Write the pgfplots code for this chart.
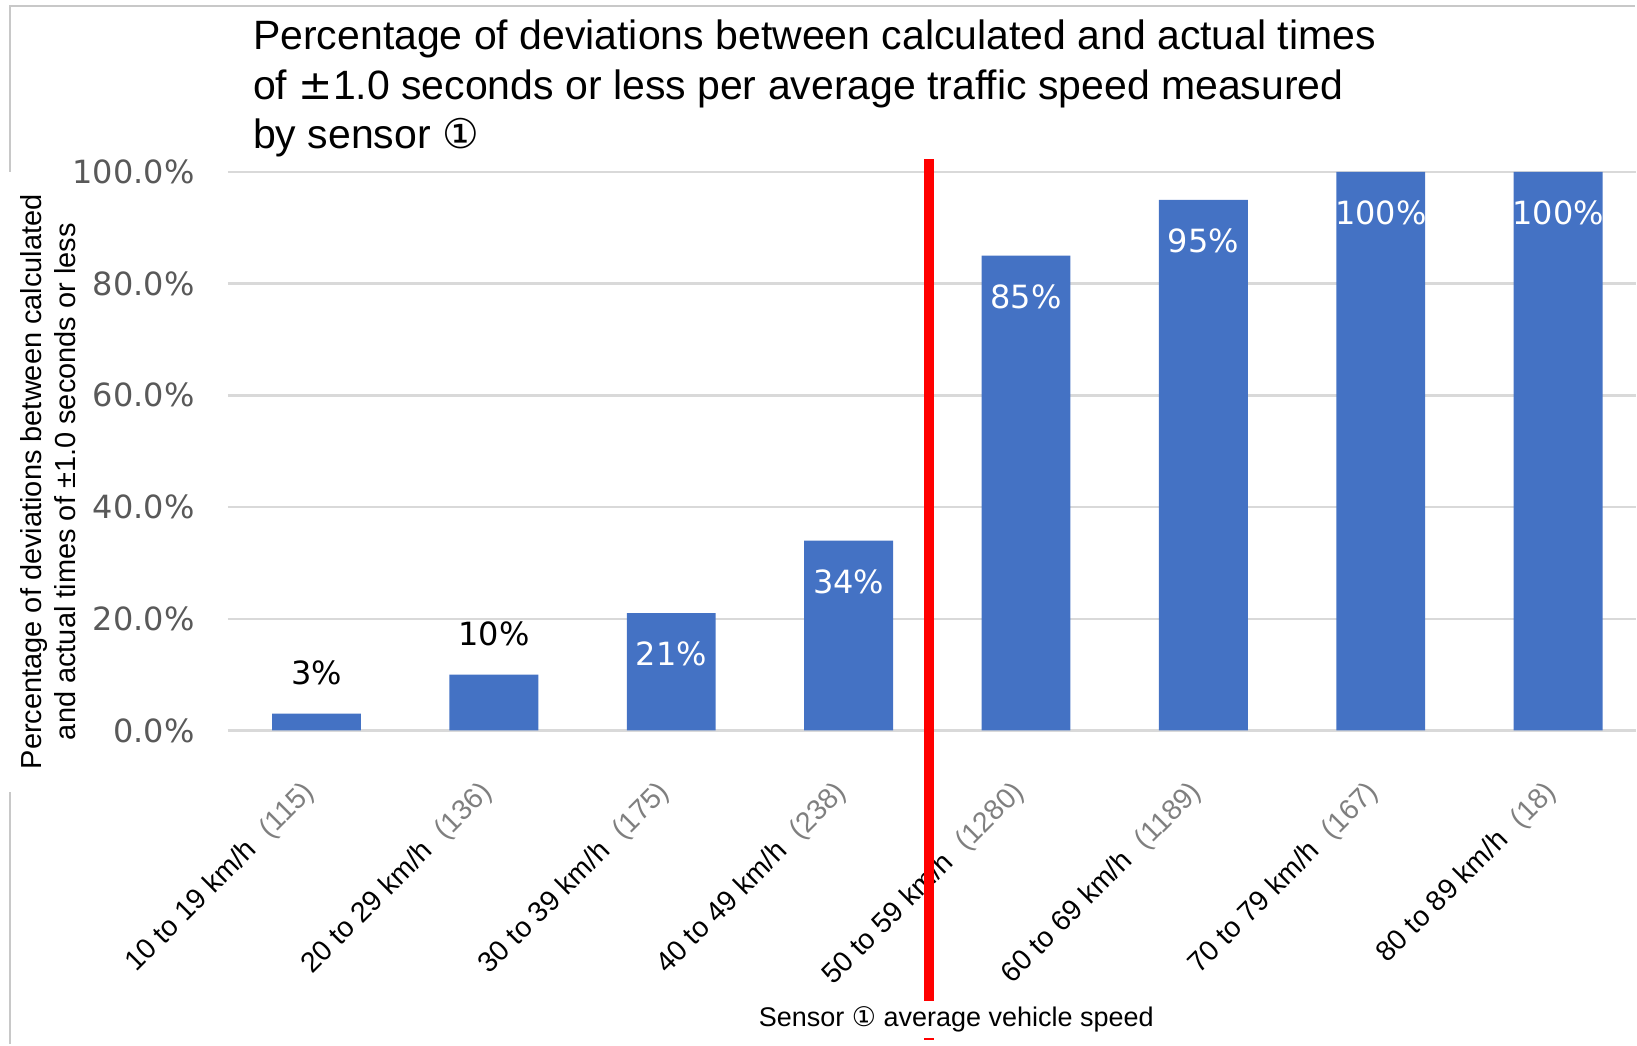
\documentclass[border=0pt]{standalone}
\usepackage{fontspec}
\setmainfont{Liberation Sans}
\newfontfamily\dejavu{DejaVu Sans}
\usepackage{pgfplots}
\pgfplotsset{compat=1.18}
\definecolor{barblue}{HTML}{4472C4}
\definecolor{gridgray}{HTML}{D9D9D9}
\definecolor{tickgray}{HTML}{595959}
\definecolor{paren}{HTML}{7F7F7F}
\definecolor{framegray}{HTML}{C8C8C8}
\newcommand{\cnt}[1]{\hspace{0.6em}{\color{paren}(#1)}}
\begin{document}
\begin{tikzpicture}
\path (0pt,0pt) rectangle (818.5pt,523pt);
\draw[framegray, line width=1pt] (5.2pt,437pt) -- (5.2pt,520pt) -- (818pt,520pt);
\draw[framegray, line width=1pt] (5.2pt,0.6pt) -- (5.2pt,126.5pt);
\begin{scope}[every node/.style={anchor=base west, inner sep=0pt, font=\fontsize{20.5}{24}\selectfont}]
\node at (126.5pt,498pt) {Percentage of deviations between calculated and actual times};
\node at (126.5pt,473.25pt) {of {\dejavu ±}1.0 seconds or less per average traffic speed measured};
\node at (126.5pt,448.5pt) {by sensor {\dejavu ①}};
\end{scope}
\node[rotate=90, align=center, font=\fontsize{14.5}{17}\selectfont, inner sep=0pt] at (24pt,282pt)
  {Percentage of deviations between calculated\\and actual times of ±1.0 seconds or less};
\begin{axis}[
  set layers,
  at={(114pt,157.5pt)}, anchor=south west, scale only axis,
  width=704.5pt, height=279.5pt,
  xmin=-0.5, xmax=7.438, ymin=0, ymax=100,
  clip=false,
  /pgf/number format/assume math mode=true,
  axis line style={draw=none}, tick style={draw=none},
  ymajorgrids, grid style={gridgray, line width=1.2pt},
  ytick={0,20,40,60,80,100},
  yticklabel={\pgfmathprintnumber[fixed,fixed zerofill,precision=1]{\tick}\%},
  yticklabel style={font=\dejavu\fontsize{16}{19}\selectfont, text=tickgray, inner sep=0pt, xshift=-16.5pt},
  xtick={0,1,2,3,4,5,6,7},
  xticklabels={
    {10 to 19 km/h\cnt{115}},
    {20 to 29 km/h\cnt{136}},
    {30 to 39 km/h\cnt{175}},
    {40 to 49 km/h\cnt{238}},
    {50 to 59 km/h\cnt{1280}},
    {60 to 69 km/h\cnt{1189}},
    {70 to 79 km/h\cnt{167}},
    {80 to 89 km/h\cnt{18}}},
  xticklabel style={yshift=-29pt, xshift=-3pt, rotate=45, anchor=east, inner sep=0pt, font=\fontsize{14.2}{17}\selectfont},
]
\addplot[ybar, bar width=44.5pt, fill=barblue, draw=none,
  nodes near coords={\pgfmathprintnumber{\pgfplotspointmeta}\%},
  nodes near coords style={text=black, font=\dejavu\fontsize{16}{19}\selectfont, anchor=center, yshift=20.5pt}]
  coordinates {(0,3) (1,10)};
\addplot[ybar, bar width=44.5pt, fill=barblue, draw=none,
  nodes near coords={\pgfmathprintnumber{\pgfplotspointmeta}\%},
  nodes near coords style={text=white, font=\dejavu\fontsize{16}{19}\selectfont, anchor=center, yshift=-20.5pt}]
  coordinates {(2,21) (3,34) (4,85) (5,95) (6,100) (7,100)};
\begin{pgfonlayer}{axis foreground}
\draw[red, line width=5.2pt] (axis cs:3.454,102.3) -- (axis cs:3.454,-55.4);
\node[fill=white, inner sep=3pt, font=\fontsize{13.5}{16}\selectfont] at (axis cs:3.607,-51.7) {Sensor {\dejavu ①} average vehicle speed};
\end{pgfonlayer}
\end{axis}
\end{tikzpicture}
\end{document}
